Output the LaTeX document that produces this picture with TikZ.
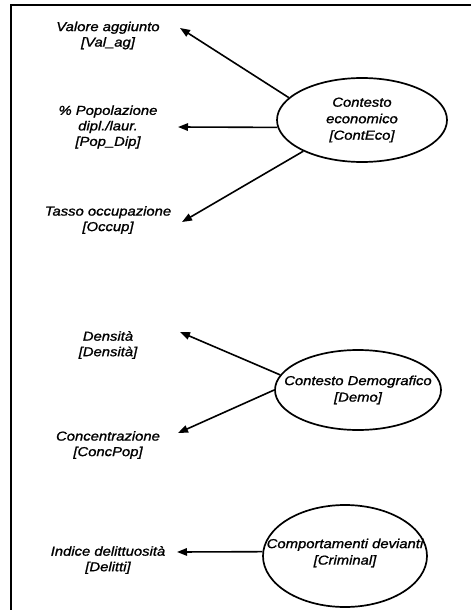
\documentclass[tikz,border=0pt]{standalone}
\usepackage{fontspec}
\setmainfont{Liberation Sans}[FakeStretch=1.14,FakeBold=1.2]
\usetikzlibrary{arrows.meta,calc,shapes.geometric}
\begin{document}
\begin{tikzpicture}[x=1pt,y=-1pt,
  lbl/.style={align=center,inner sep=0pt,font=\fontsize{13}{15.5}\selectfont\itshape},
  inlbl/.style={lbl,font=\fontsize{13}{16.5}\selectfont\itshape},
  latent/.style={ellipse,draw,line width=1.7pt,inner sep=0pt},
  arr/.style={line width=1.6pt,-{Triangle[length=10pt,width=7.5pt]}},
  frame/.style={line width=1.4pt}]
\useasboundingbox (0,0) rectangle (471,610);
% open frame: top and left edges only
\draw[frame] (471,5) -- (11,5) -- (11,610);

% latent constructs (fixed-size ellipses, text laid on top)
\node[latent,minimum width=170pt,minimum height=84pt,
  label={[inlbl]center:Contesto\\economico\\{[}ContEco{]}}] (eco) at (362,120) {};
\node[latent,minimum width=166pt,minimum height=80pt,
  label={[inlbl]center:Contesto Demografico\\{[}Demo{]}}] (demo) at (358,390) {};
\node[latent,minimum width=164pt,minimum height=102pt,
  label={[inlbl,yshift=3pt]center:Comportamenti devianti\\{[}Criminal{]}}] (crim) at (345,556) {};

% indicators
\node[lbl] (val)  at (108,35.5) {Valore aggiunto\\{[}Val\_ag{]}};
\node[lbl] (pop)  at (108,127)  {\% Popolazione\\dipl./laur.\\{[}Pop\_Dip{]}};
\node[lbl] (occ)  at (108,220)  {Tasso occupazione\\{[}Occup{]}};
\node[lbl] (dens) at (108,345)  {Densità\\{[}Densità{]}};
\node[lbl] (conc) at (108,445)  {Concentrazione\\{[}ConcPop{]}};
\node[lbl] (del)  at (108,560)  {Indice delittuosità\\{[}Delitti{]}};

% loadings
\draw[arr] (eco.163.6) -- ($(val.center)+(72,-7.5)$);
\draw[arr] (eco.185)   -- ($(pop.center)+(70,0)$);
\draw[arr] (eco.208.5) -- ($(occ.center)+(74,2)$);
\draw[arr] (demo.169.5) -- ($(dens.center)+(72,-13)$);
\draw[arr] (demo.180)   -- ($(conc.center)+(70,-12)$);
\draw[arr] (crim.177)   -- ($(del.center)+(69,-8)$);
\end{tikzpicture}
\end{document}
